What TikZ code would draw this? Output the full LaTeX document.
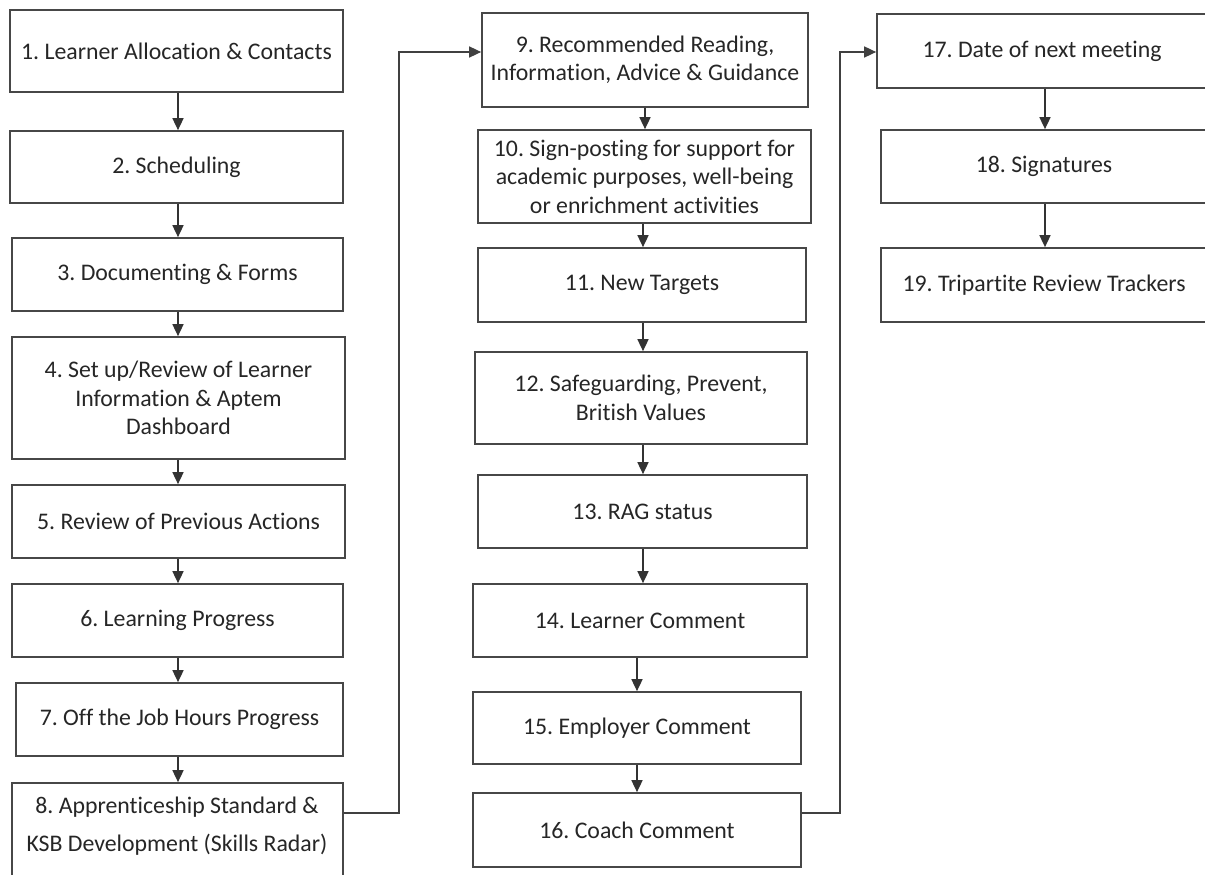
\documentclass[tikz,border=0pt]{standalone}
\usepackage{fontspec}
\setmainfont{Carlito}[Ligatures=NoCommon]
\usetikzlibrary{arrows.meta}
\frenchspacing
\newcommand\bxbox[6]{%
  \pgfmathsetmacro\bxcx{(#2+#4)/2}%
  \pgfmathsetmacro\bxcy{(#3+#5)/2}%
  \pgfmathsetmacro\bxw{#4-#2}%
  \pgfmathsetmacro\bxh{#5-#3}%
  \node[flowbox,minimum width=\bxw pt,minimum height=\bxh pt] (#1) at (\bxcx,\bxcy) {#6};}
\begin{document}
\begin{tikzpicture}[x=1pt,y=-1pt,
  flowbox/.style={draw=black!72,line width=1.7pt,fill=white,inner sep=0pt,align=center,
    font=\fontsize{23.8}{28.5}\selectfont\frenchspacing,text=black!85},
  txt/.style={inner sep=0pt,align=center,font=\fontsize{23.8}{38}\selectfont\frenchspacing,text=black!85},
  arr/.style={draw=black!80,line width=1.6pt,-{Triangle[width=11pt,length=12pt]}},
  link/.style={draw=black!75,line width=1.6pt,-{Triangle[width=11pt,length=12pt]}}]
\useasboundingbox (0,0) rectangle (1205,875);
\fill[white] (0,0) rectangle (1205,875);
% column 1
\bxbox{b1}{10}{10}{343}{92}{1. Learner Allocation \& Contacts}
\bxbox{b2}{10}{131}{343}{203}{2. Scheduling}
\bxbox{b3}{12}{238}{343}{311}{3. Documenting \& Forms}
\bxbox{b4}{12}{337}{345}{459}{4. Set up/Review of Learner\\Information \& Aptem\\Dashboard}
\bxbox{b5}{12}{485}{345}{558}{5. Review of Previous Actions}
\bxbox{b6}{12}{584}{343}{657}{6. Learning Progress}
\bxbox{b7}{16}{683}{343}{756}{7. Off the Job Hours Progress}
\bxbox{b8}{12}{783}{343}{882}{}
\node[txt] (t8) at (177,826) {8. Apprenticeship Standard \&\\KSB Development (Skills Radar)};
% column 2
\bxbox{b9}{482}{13}{808}{107}{9. Recommended Reading,\\Information, Advice \& Guidance}
\bxbox{b10}{478}{130}{811}{223}{10. Sign-posting for support for\\academic purposes, well-being\\or enrichment activities}
\bxbox{b11}{478}{248}{806}{322}{11. New Targets}
\bxbox{b12}{475}{352}{807}{444}{12. Safeguarding, Prevent,\\British Values}
\bxbox{b13}{478}{475}{807}{548}{13. RAG status}
\bxbox{b14}{473}{584}{807}{657}{14. Learner Comment}
\bxbox{b15}{473}{692}{801}{764}{15. Employer Comment}
\bxbox{b16}{473}{793}{801}{867}{16. Coach Comment}
% column 3
\bxbox{b17}{877}{14}{1207}{88}{17. Date of next meeting}
\bxbox{b18}{881}{130}{1207}{203}{18. Signatures}
\bxbox{b19}{881}{248}{1207}{322}{19. Tripartite Review Trackers}
% arrow columns
\coordinate (xa) at (178,0);
\coordinate (xb) at (645,0);
\coordinate (xc) at (643,0);
\coordinate (xd) at (637,0);
\coordinate (xe) at (1045,0);
\draw[arr] (b1.south -| xa) -- (b2.north -| xa);
\draw[arr] (b2.south -| xa) -- (b3.north -| xa);
\draw[arr] (b3.south -| xa) -- (b4.north -| xa);
\draw[arr] (b4.south -| xa) -- (b5.north -| xa);
\draw[arr] (b5.south -| xa) -- (b6.north -| xa);
\draw[arr] (b6.south -| xa) -- (b7.north -| xa);
\draw[arr] (b7.south -| xa) -- (b8.north -| xa);
\draw[arr] (b9.south -| xb) -- (b10.north -| xb);
\draw[arr] (b10.south -| xc) -- (b11.north -| xc);
\draw[arr] (b11.south -| xc) -- (b12.north -| xc);
\draw[arr] (b12.south -| xc) -- (b13.north -| xc);
\draw[arr] (b13.south -| xc) -- (b14.north -| xc);
\draw[arr] (b14.south -| xd) -- (b15.north -| xd);
\draw[arr] (b15.south -| xd) -- (b16.north -| xd);
\draw[arr] (b17.south -| xe) -- (b18.north -| xe);
\draw[arr] (b18.south -| xe) -- (b19.north -| xe);
% elbow connectors
\coordinate (ylow) at (0,813);
\coordinate (j1) at (399,52);
\coordinate (j2) at (840,52);
\draw[link] (b8.east |- ylow) -| (j1) -- (b9.west |- j1);
\draw[link] (b16.east |- ylow) -| (j2) -- (b17.west |- j2);
\end{tikzpicture}
\end{document}
